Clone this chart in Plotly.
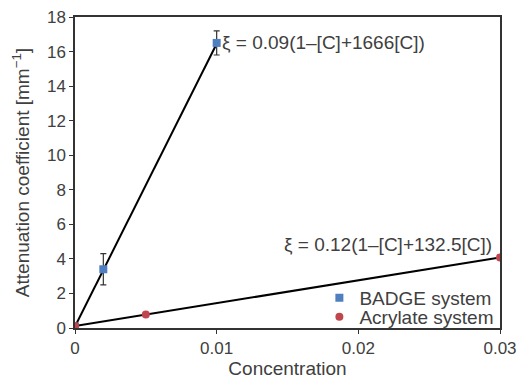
import plotly.graph_objects as go

# Measured attenuation coefficients
badge_conc = [0.0, 0.002, 0.01]
badge_atten = [0.09, 3.4, 16.5]
badge_err = [0.0, 0.9, 0.7]

acryl_conc = [0.0, 0.005, 0.03]
acryl_atten = [0.12, 0.78, 4.08]

# Linear fit endpoints
badge_fit_x = [0.0, 0.01]
badge_fit_y = [0.09, 16.45]
acryl_fit_x = [0.0, 0.03]
acryl_fit_y = [0.12, 4.08]

x_ticks = [0, 0.01, 0.02, 0.03]
x_tick_text = ["0", "0.01", "0.02", "0.03"]
y_ticks = list(range(0, 19, 2))

blue = "#4f7fc0"
red = "#c1454d"
text_color = "#404040"
font = "Liberation Sans, Arial, sans-serif"

fig = go.Figure()

fig.add_trace(go.Scatter(x=badge_fit_x, y=badge_fit_y, mode="lines",
                         line=dict(color="black", width=2), showlegend=False,
                         hoverinfo="skip"))
fig.add_trace(go.Scatter(x=acryl_fit_x, y=acryl_fit_y, mode="lines",
                         line=dict(color="black", width=2), showlegend=False,
                         hoverinfo="skip"))

fig.add_trace(go.Scatter(
    x=badge_conc, y=badge_atten, mode="markers", name="BADGE system",
    marker=dict(symbol="square", size=8, color=blue),
    error_y=dict(type="data", array=badge_err, visible=True,
                 color="#333333", thickness=1.2, width=3),
    legend="legend",
))
fig.add_trace(go.Scatter(
    x=acryl_conc, y=acryl_atten, mode="markers", name="Acrylate system",
    marker=dict(symbol="circle", size=8, color=red),
    legend="legend2",
))

fig.add_annotation(x=0.01, y=badge_atten[2], xref="x", yref="y",
                   text="ξ = 0.09(1–[C]+1666[C])", showarrow=False,
                   xanchor="left", yanchor="middle", xshift=3,
                   font=dict(family=font, size=19, color=text_color))
fig.add_annotation(x=0.03, y=acryl_atten[2], xref="x", yref="y",
                   text="ξ = 0.12(1–[C]+132.5[C])", showarrow=False,
                   xanchor="right", yanchor="bottom", xshift=-6, yshift=1,
                   font=dict(family=font, size=19, color=text_color))

legend_style = dict(xanchor="left", yanchor="middle", x=0.575,
                    bgcolor="rgba(0,0,0,0)",
                    font=dict(family=font, size=19, color=text_color),
                    itemwidth=30)

fig.update_layout(
    width=524, height=381,
    margin=dict(l=75, r=24, t=17, b=53),
    paper_bgcolor="white", plot_bgcolor="white",
    font=dict(family=font, size=17, color=text_color),
    legend=dict(y=0.0965, **legend_style),
    legend2=dict(y=0.0354, **legend_style),
    xaxis=dict(range=[0, 0.03], tickvals=x_ticks, ticktext=x_tick_text,
               showgrid=False, zeroline=False, showline=True, mirror=True,
               linecolor="#333333", linewidth=1.5, ticks="outside",
               ticklen=4, tickcolor="#333333", automargin=False,
               title=dict(text="Concentration", standoff=4,
                          font=dict(size=19)),
               tickfont=dict(size=17)),
    yaxis=dict(range=[0, 18], tickvals=y_ticks,
               showgrid=False, zeroline=False, showline=True, mirror=True,
               linecolor="#333333", linewidth=1.5, ticks="outside",
               ticklen=4, tickcolor="#333333", automargin=False,
               title=dict(text="Attenuation coefficient [mm<sup>−1</sup>]",
                          standoff=12, font=dict(size=19)),
               tickfont=dict(size=17)),
)

fig.write_html("out.html")
